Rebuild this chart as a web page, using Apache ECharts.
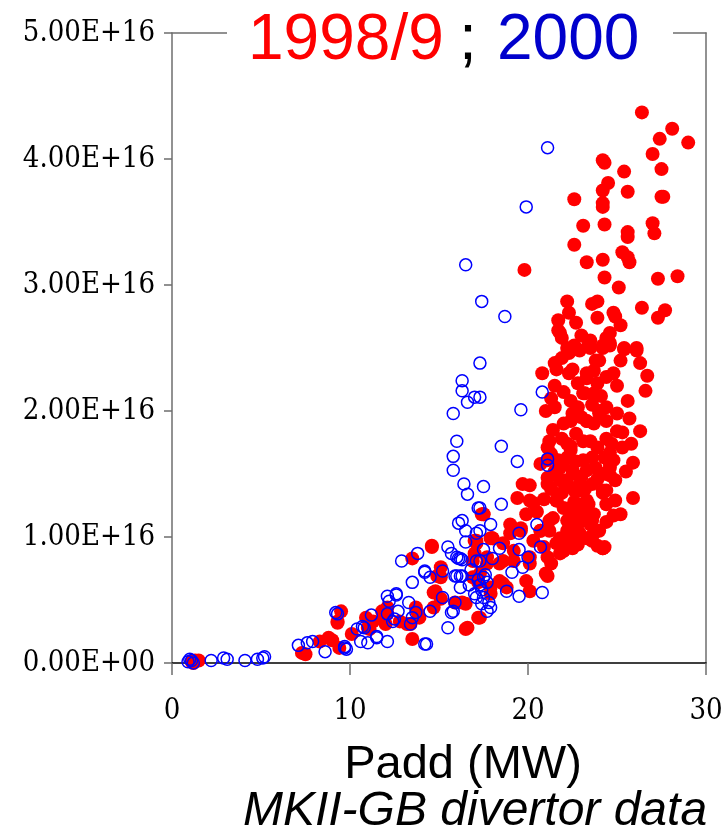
<!DOCTYPE html>
<html>
<head>
<meta charset="utf-8">
<script src="https://cdn.jsdelivr.net/npm/echarts@6/dist/echarts.min.js"></script>
<style>
html,body{margin:0;padding:0;background:#fff;}
#chart{width:728px;height:830px;}
</style>
</head>
<body>
<div id="chart"></div>
<script>
// y values in units of 1E+16
var yTickLabels = ['0.00E+00','1.00E+16','2.00E+16','3.00E+16','4.00E+16','5.00E+16'];
var xTickLabels = ['0','10','20','30'];
var titleParts = ['1998/9', ';', '2000'];
var xName = 'Padd (MW)';
var caption = 'MKII-GB divertor data';

var red1998 = [
[1.1,0.01],[1.3,0.02],[1.5,0.02],[1.2,0.0],
[7.3,0.08],[7.5,0.07],[8.3,0.17],[8.8,0.20],[9.0,0.18],[9.4,0.12],[9.5,0.41],[9.3,0.33],[9.3,0.32],[10.1,0.23],[10.9,0.36],[11.0,0.28],[11.1,0.27],[11.3,0.33],[11.8,0.41],[11.9,0.36],[12.0,0.31],[12.1,0.39],[12.1,0.44],[12.8,0.33],[13.2,0.31],[13.4,0.31],[13.5,0.19],[13.7,0.44],[13.8,0.40],[13.9,0.36],[13.5,0.83],[14.6,0.92],[14.6,0.93],[14.7,0.44],[14.7,0.56],[14.8,0.57],[14.9,0.69],[15.1,0.76],[15.1,0.68],[15.1,0.51],[15.9,0.48],[16.3,0.48],[16.5,0.47],[16.5,0.27],[16.6,0.28],[17.2,0.36],[17.3,0.36],[17.1,0.95],[17.0,0.87],[16.9,0.68],[17.0,0.97],[17.4,1.18],[17.5,1.18],[17.9,0.99],[16.9,0.81],[17.7,0.79],[18.4,0.79],[19.2,0.81],[17.2,0.64],[17.9,0.55],[17.9,0.60],[18.6,0.63],[18.0,0.99],[18.6,0.95],[17.1,0.97],[17.7,0.84],[17.3,0.71],[18.6,0.81],[18.4,0.65],[18.8,0.60],[19.9,0.65],[20.1,0.57],[21.1,0.69],[21.0,0.71],[20.1,0.79],[19.6,1.05],[19.0,1.10],[19.4,1.31],[20.1,1.41],[20.3,1.27],[20.1,1.29],[19.7,1.42],[19.9,1.18],[19.6,1.07],[19.0,1.03],[19.2,0.89],[20.1,0.84],[21.1,0.84],[21.8,0.87],[20.3,0.97],[20.7,1.05],[20.7,1.58],[21.1,1.47],[21.1,1.71],[21.1,1.61],[21.2,1.76],[21.3,1.66],[21.0,2.00],[21.5,2.03],[20.8,2.30],[21.5,2.38],[21.6,2.33],[21.8,2.62],[22.2,2.50],[22.3,2.46],[22.0,1.90],[22.2,1.74],[21.7,1.61],[21.8,1.45],[21.8,1.55],[22.4,1.69],[22.5,1.50],[22.6,1.37],[21.6,1.29],[21.4,1.15],[22.0,1.23],[22.4,1.15],[22.5,1.05],[23.1,1.15],[23.5,1.10],[23.4,1.26],[21.8,0.99],[22.0,0.89],[21.3,0.79],[22.8,0.94],[23.6,0.97],[24.0,1.05],[24.2,0.91],[24.3,0.92],[24.4,1.37],[24.2,1.50],[24.3,1.63],[23.6,1.63],[23.3,1.53],[23.1,1.76],[23.7,1.90],[24.0,1.98],[23.3,1.92],[22.5,1.98],[23.3,2.26],[23.7,2.32],[23.9,2.22],[23.1,2.14],[24.0,2.40],[22.9,2.48],[23.5,2.56],[24.4,2.58],[24.6,2.54],[25.0,1.84],[24.7,1.74],[24.4,2.03],[24.8,1.61],[24.4,1.26],[25.2,1.18],
[21.1,1.42],[22.0,1.45],[22.9,1.42],[24.2,1.37],[21.6,1.29],[22.4,1.23],[23.3,1.29],[21.2,1.13],[22.2,1.13],[22.4,1.03],[23.3,0.99],[20.7,1.05],[23.1,1.61],[23.9,1.71],[24.6,1.55],[17.5,1.18],[18.0,0.99],
[24.6,2.62],[26.1,2.48],[26.3,2.38],[26.7,2.28],[26.6,2.16],[25.6,2.08],[25.0,1.98],[25.7,1.94],[26.3,1.84],[25.3,1.83],[25.8,1.74],[25.3,1.71],[25.9,1.59],[24.6,1.67],[24.6,1.58],[24.4,1.78],[23.5,1.76],[22.4,1.72],[24.6,1.49],[23.9,1.46],[25.9,1.31],[24.9,1.29],[24.2,1.35],[24.8,1.17],[23.7,1.18],[24.2,0.91],[23.6,1.13],[23.7,1.03],[22.5,0.91],[23.5,2.50],[24.2,2.50],[25.2,2.40],[25.4,2.49],[22.4,2.48],[22.5,2.33],[23.3,2.30],[24.4,2.27],[23.7,2.14],[24.0,2.00],[23.3,1.92],[22.4,1.92],[22.4,2.08],[22.8,2.03],[23.2,2.14],[24.4,1.92],[22.5,1.53],[22.2,1.63],[22.9,1.37],[22.8,1.21],[22.2,1.05],[22.9,1.03],[22.0,0.89],
[26.4,4.37],[28.1,4.24],[27.4,4.16],[29.0,4.13],[27.0,4.04],[24.3,3.97],[24.2,3.99],[25.4,3.90],[27.5,3.92],[24.5,3.81],[24.2,3.75],[27.5,3.70],[27.6,3.70],[22.6,3.68],[25.6,3.74],[24.2,3.65],[24.2,3.62],[23.1,3.47],[24.3,3.48],[27.0,3.49],[27.1,3.41],[25.6,3.42],[25.6,3.38],[22.6,3.32],[25.3,3.26],[25.6,3.22],[23.3,3.18],[24.2,3.20],[25.7,3.18],[19.8,3.12],[24.3,3.06],[27.3,3.05],[28.4,3.07],[25.1,2.98],[22.2,2.87],[22.3,2.78],[23.6,2.85],[23.9,2.87],[26.4,2.82],[27.3,2.74],[27.7,2.80],[24.8,2.78],[23.9,2.74],[24.9,2.75],[21.7,2.72],[21.7,2.64],[21.9,2.58],[25.2,2.68],[22.6,2.52],[23.4,2.54],[24.2,2.52],[24.6,2.52],[25.4,2.50],[26.1,2.50],
[20.5,1.20],[20.9,1.30],[21.3,1.38],[21.5,1.52],[21.9,1.35],[22.2,1.42],[22.6,1.28],[22.7,1.60],[23.0,1.48],[23.2,1.38],[23.6,1.42],[23.8,1.55],[22.0,1.60],[21.4,1.85],[21.9,1.78],[22.7,1.82],[23.0,1.95],[23.6,2.05],[24.1,2.12],[22.0,2.15],[22.3,2.30],[22.8,2.22],[21.9,2.42],[23.0,2.60],[22.7,2.70],[21.2,1.05],[21.6,0.95],[22.3,0.97],[22.8,1.10],[23.9,0.93],[20.9,0.92],[21.5,2.20],[21.3,2.10],[23.8,2.40],[24.8,2.30],[25.0,2.20],[24.9,1.45],[25.5,1.52],[24.4,1.12],[23.1,1.22]
];

var blue2000 = [
[0.9,0.01],[1.1,0.02],[1.2,0.0],[1.0,0.03],[2.2,0.02],[2.9,0.04],[3.1,0.03],[4.1,0.02],[4.8,0.03],[5.1,0.04],[5.2,0.05],
[7.1,0.14],[7.6,0.16],[7.9,0.17],[8.6,0.09],[9.2,0.40],[9.3,0.39],[9.7,0.13],[9.8,0.11],[9.7,0.12],[10.4,0.27],[10.6,0.17],[10.7,0.29],[10.8,0.28],[11.0,0.16],[11.2,0.38],[11.5,0.21],[11.5,0.20],[12.1,0.17],[12.1,0.53],[12.2,0.49],[12.4,0.33],[12.1,0.39],[12.6,0.54],[12.6,0.55],[12.7,0.41],[12.5,0.35],[12.9,0.81],[13.3,0.48],[13.5,0.64],[13.5,0.36],[13.4,0.31],[13.7,0.40],[13.8,0.87],[14.2,0.72],[14.2,0.73],[14.5,0.68],[14.3,0.15],[14.2,0.15],[14.5,0.41],[15.2,0.52],[15.2,0.73],[15.5,0.28],[15.5,0.92],[15.7,0.40],[15.8,0.41],[15.9,0.48],[15.7,0.87],[16.0,0.84],[16.1,0.83],[16.3,0.82],[15.9,0.69],[16.0,0.69],[16.3,0.69],[16.2,0.60],[16.1,1.11],[16.3,1.13],[16.5,1.05],[16.5,0.96],[16.4,1.42],[16.6,1.34],[15.8,1.53],[17.2,1.23],[17.1,1.03],[17.1,0.81],[17.1,0.52],
[17.3,2.38],[16.3,2.24],[16.3,2.16],[16.6,2.07],[17.0,2.11],[17.3,2.11],[15.8,1.98],[19.6,2.01],[20.8,2.15],[16.0,1.76],[18.5,1.72],[15.8,1.64],[19.4,1.60],[21.1,1.62],[21.1,1.57],[17.5,1.40],[17.3,1.23],[18.5,1.26],[17.3,1.05],[17.9,1.10],[20.5,1.10],[19.5,1.03],[17.5,0.90],[18.4,0.91],[19.5,0.90],[20.7,0.92],[16.2,0.83],[18.0,0.83],[20.0,0.84],[17.3,0.81],[19.7,0.76],[19.1,0.72],[16.2,0.69],[17.5,0.68],[17.3,0.62],[17.7,0.64],[18.8,0.57],[19.5,0.53],[20.8,0.56],[17.5,0.52],[17.9,0.44],[17.7,0.41],
[17.2,0.66],[17.4,0.58],[17.6,0.70],[16.8,0.74],[17.0,0.55],[17.4,0.47],[17.8,0.48],[16.7,0.62],
[16.5,3.16],[17.4,2.87],[18.7,2.75],[21.1,4.09],[19.9,3.62]
];

var chart = echarts.init(document.getElementById('chart'), null, {renderer:'canvas'});
var frameColor = '#6e6e6e';
var tickFont = '"DejaVu Serif Condensed", "DejaVu Serif", serif';
var option = {
  animation: false,
  backgroundColor: '#ffffff',
  grid: {left:172, right:22, top:33, bottom:167, containLabel:false},
  xAxis: [{
    type:'value', min:0, max:30, interval:10, position:'bottom',
    axisLine:{show:true, onZero:false, lineStyle:{color:'#000', width:1.5}},
    axisTick:{show:true, inside:false, length:12, lineStyle:{color:frameColor, width:1.5}},
    axisLabel:{margin:34, color:'#000', fontFamily:tickFont, fontSize:29,
      formatter:function(v){ var i = Math.round(v/10); return xTickLabels[i]; }},
    splitLine:{show:false}
  },{
    type:'value', min:0, max:30, interval:10, position:'top',
    axisLine:{show:true, onZero:false, lineStyle:{color:frameColor, width:1.5}},
    axisTick:{show:false}, axisLabel:{show:false}, splitLine:{show:false}
  }],
  yAxis: [{
    type:'value', min:0, max:5, interval:1, position:'left',
    axisLine:{show:true, onZero:false, lineStyle:{color:frameColor, width:1.5}},
    axisTick:{show:true, inside:false, length:8, lineStyle:{color:frameColor, width:1.5}},
    axisLabel:{margin:17, color:'#000', fontFamily:tickFont, fontSize:29,
      formatter:function(v){ return yTickLabels[Math.round(v)]; }},
    splitLine:{show:false}
  },{
    type:'value', min:0, max:5, interval:1, position:'right',
    axisLine:{show:true, onZero:false, lineStyle:{color:frameColor, width:1.5}},
    axisTick:{show:false}, axisLabel:{show:false}, splitLine:{show:false}
  }],
  series: [{
    name:'1998/9', type:'scatter', data:red1998, symbol:'circle', symbolSize:14,
    itemStyle:{color:'#ff0000', opacity:1}, z:2
  },{
    name:'2000', type:'scatter', data:blue2000, symbol:'circle', symbolSize:12,
    itemStyle:{color:'rgba(0,0,0,0)', borderColor:'#0000ff', borderWidth:1.5, opacity:1}, z:3
  }],
  graphic: [
    {type:'rect', z:100, shape:{x:227, y:26, width:446, height:14}, style:{fill:'#ffffff'}},
    {type:'text', z:101, x:248, y:41, style:{text:titleParts[0], fill:'#ff0000', font:'64px "Liberation Sans", Arial, sans-serif', textAlign:'left', textVerticalAlign:'middle'}},
    {type:'text', z:101, x:468, y:41, style:{text:titleParts[1], fill:'#000000', font:'64px "Liberation Sans", Arial, sans-serif', textAlign:'center', textVerticalAlign:'middle'}},
    {type:'text', z:101, x:497, y:41, style:{text:titleParts[2], fill:'#0000cc', font:'64px "Liberation Sans", Arial, sans-serif', textAlign:'left', textVerticalAlign:'middle'}},
    {type:'text', z:101, x:463, y:765, style:{text:xName, fill:'#000000', font:'47px "Liberation Sans", Arial, sans-serif', textAlign:'center', textVerticalAlign:'middle'}},
    {type:'text', z:101, x:475, y:812, style:{text:caption, fill:'#000000', font:'italic 48px "Liberation Sans", Arial, sans-serif', textAlign:'center', textVerticalAlign:'middle'}}
  ]
};
chart.setOption(option);
</script>
</body>
</html>
